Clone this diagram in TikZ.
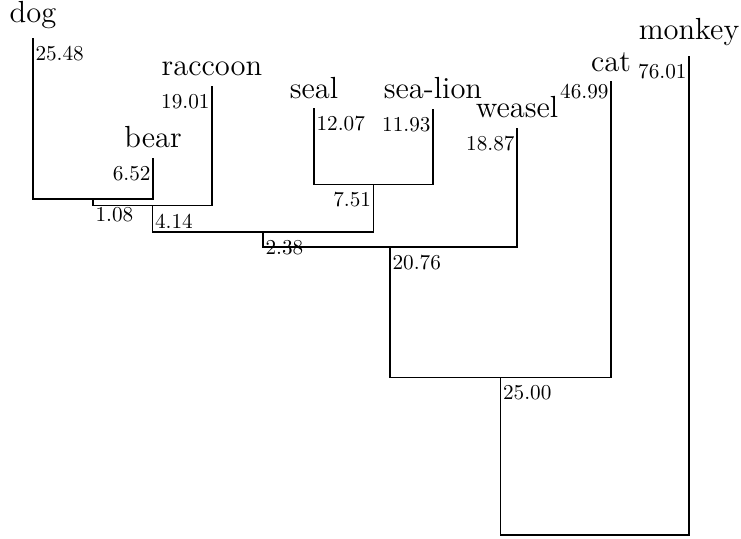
\documentclass[tikz,border=0pt]{standalone}
\begin{document}
\begin{tikzpicture}[x=0.4716pt,y=2.971pt,thick,
	leaf/.style={anchor=south,font=\Large,inner sep=4.3pt},
	lenr/.style={anchor=north west,inner xsep=0.8pt,inner ysep=3.5pt},
	lenl/.style={anchor=north east,inner xsep=0.8pt,inner ysep=3.5pt}]
		\useasboundingbox (0,-0.635) rectangle (741,84.92);
		\path
		+(33,78.84)    coordinate (dog)     node[leaf] (Ndog) {dog}
		+(153,59.88)   coordinate (bear)    node[leaf] (Nbear) {bear}
		+(212,71.29)   coordinate (raccoon) node[leaf] (Nraccoon) {raccoon}
		+(314,67.72)   coordinate (seal)    node[leaf] (Nseal) {seal}
		+(433,67.58)   coordinate (sealion) node[leaf] (Nsealion) {sea-lion}
		+(517,64.63)   coordinate (weasel)  node[leaf] (Nweasel) {weasel}
		+(611,71.99)   coordinate (cat)     node[leaf] (Ncat) {cat}
		+(689,76.01)   coordinate (monkey)  node[leaf] (Nmonkey) {monkey}
		+(93,53.36)    coordinate (j1)
		+(152.5,52.28) coordinate (j2)
		+(373.5,55.65) coordinate (j3)
		+(263,48.14)   coordinate (j4)
		+(390,45.76)   coordinate (j5)
		+(500.5,25)    coordinate (j6)
		+(594.75,0)    coordinate (root)
		;
		\draw (dog) node[lenr] (Ldog) {25.48} |- (j1) -| (bear) node[lenl] (Lbear) {6.52};
		\draw (j1) node[lenr] (Lj1) {1.08} |- (j2) -| (raccoon) node[lenl] (Lraccoon) {19.01};
		\draw (seal) node[lenr] (Lseal) {12.07} |- (j3) -| (sealion) node[lenl] (Lsealion) {11.93};
		\draw (j2) node[lenr] (Lj2) {4.14} |- (j4) -| (j3) node[lenl] (Lj3) {7.51};
		\draw (j4) node[lenr] (Lj4) {2.38} |- (j5) -| (weasel) node[lenl] (Lweasel) {18.87};
		\draw (j5) node[lenr] (Lj5) {20.76} |- (j6) -| (cat) node[lenl,yshift=2.5pt] (Lcat) {46.99};
		\draw (j6) node[lenr] (Lj6) {25.00} |- (root) -| (monkey) node[lenl] (Lmonkey) {76.01};
		\end{tikzpicture}
\end{document}
